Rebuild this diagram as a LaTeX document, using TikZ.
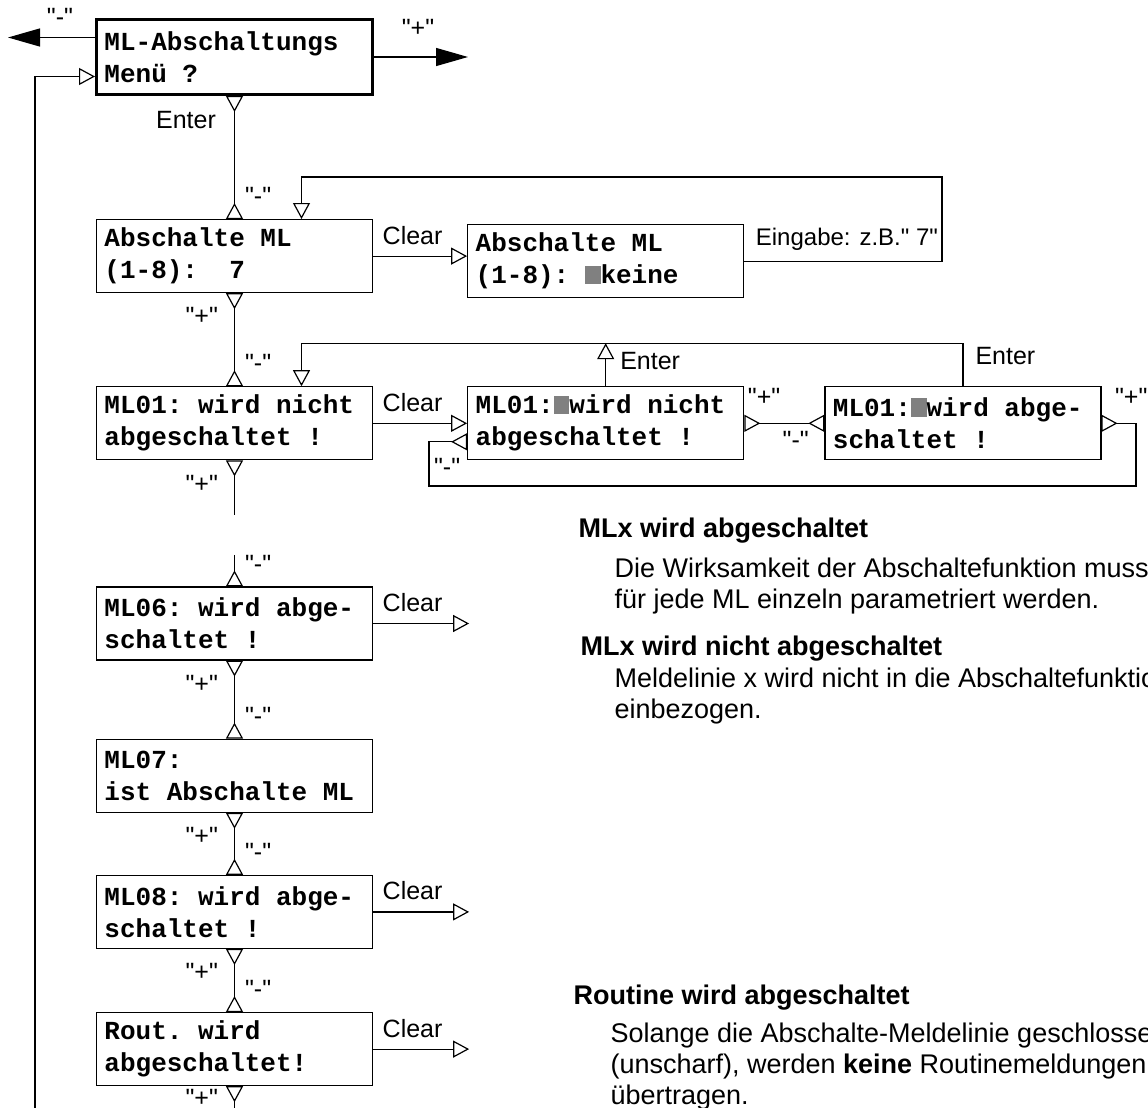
\documentclass[tikz,border=0pt]{standalone}
\usepackage{fontspec}
\setmainfont{Liberation Sans}
\newfontfamily\labelfont{Liberation Sans}
\newfontfamily\lcdmono{Liberation Mono}
\usetikzlibrary{arrows.meta,positioning}
\definecolor{cursgray}{HTML}{808080}
\newcommand{\lcdfont}{\fontsize{13}{16}\selectfont\lcdmono\bfseries}
\newcommand{\curs}{{\color{cursgray}\rule{0.6em}{0.7em}}}

\begin{document}
\begin{tikzpicture}[x=0.5pt, y=-0.5pt, line width=0.6pt, font=\labelfont\fontsize{12.5}{15}\selectfont]
  \tikzset{
    lcdbox/.style ={draw, line width=0.6pt, font=\lcdfont, text width=130pt, inner xsep=4pt, inner ysep=0pt, minimum height=36.5pt, align=flush left,
                    execute at begin node={\spaceskip=0.6em\xspaceskip=0.6em\relax}},
    menubox/.style={lcdbox, line width=1.5pt, minimum height=37.5pt},
    keylbl/.style ={inner sep=0pt},
    lbl/.style    ={inner sep=0pt},
    note/.style   ={anchor=north west, inner sep=0pt, align=left, font=\labelfont\fontsize{13.5}{15.5}\selectfont},
    opentip/.tip  ={Triangle[open, length=8pt, width=8.5pt]},
    backtip/.tip  ={Triangle[open, reversed, length=8pt, width=8.5pt]},
    bigtip/.tip   ={Triangle[length=16pt, width=9pt]},
  }
  \useasboundingbox (0,0) rectangle (1148,1108);

  % display boxes
  \node[menubox, anchor=north west] (menu) at (95,18) {ML-Abschaltungs\\Menü ?};
  \node[lcdbox, below=61.5pt of menu] (abs) {Abschalte ML\\(1-8):~~7};
  \node[lcdbox, right=47pt of abs, yshift=-2.5pt] (sel) {Abschalte ML\\(1-8):~\curs keine};
  \node[lcdbox, below=46.5pt of abs] (ml1) {ML01: wird nicht\\abgeschaltet !};
  \node[lcdbox, right=47pt of ml1] (ml1n) {ML01:\curs wird nicht\\abgeschaltet !};
  \node[lcdbox, right=40pt of ml1n] (ml1a) {ML01:\curs wird abge-\\schaltet !};
  \node[lcdbox, below=63pt of ml1] (ml6) {ML06: wird abge-\\schaltet !};
  \node[lcdbox, below=39pt of ml6] (ml7) {ML07:\\ist Abschalte ML};
  \node[lcdbox, below=31pt of ml7] (ml8) {ML08: wird abge-\\schaltet !};
  \node[lcdbox, below=31.5pt of ml8] (rout) {Rout. wird\\abgeschaltet!};

  % free ends and corners
  \coordinate (mleft) at ([xshift=-43.5pt, yshift=9.75pt]menu.west);
  \coordinate (mright) at ([xshift=47pt]menu.east);
  \coordinate (lb) at (35,1108);
  \coordinate (rbot) at (rout.south |- lb);
  \coordinate (eck) at (942,177);
  \coordinate (top1) at ([xshift=33.5pt, yshift=21.5pt]ml1.north);
  \coordinate (cA) at (1136,486);
  \coordinate (cB) at (429,486);
  \coordinate (ml6c) at ([xshift=48pt]ml6.east);
  \coordinate (ml8c) at ([xshift=48pt]ml8.east);
  \coordinate (routc) at ([xshift=48pt]rout.east);

  % menu
  \draw[-bigtip] ([yshift=9.75pt]menu.west) -- (mleft);
  \draw[-bigtip] (menu.east) -- (mright);
  \draw[-opentip] (lb) |- ([yshift=-9.75pt]menu.west);
  \node[keylbl] at ([xshift=26pt, yshift=10.5pt]mleft) {"-"};
  \node[keylbl] at ([xshift=-25pt, yshift=14.5pt]mright) {"+"};

  % main column
  \draw[backtip-backtip] (menu.south) -- (abs.north);
  \draw[backtip-backtip] (abs.south) -- (ml1.north);
  \draw[backtip-backtip, dash pattern=on 20pt off 20pt] (ml1.south) -- (ml6.north);
  \draw[backtip-backtip] (ml6.south) -- (ml7.north);
  \draw[backtip-backtip] (ml7.south) -- (ml8.north);
  \draw[backtip-backtip] (ml8.south) -- (rout.north);
  \draw[backtip-] (rout.south) -- (rbot);
  \node[lbl, left=9pt of menu.south, yshift=-12pt] {Enter};
  \foreach \b in {abs,ml1,ml6,ml7,ml8}
    \node[keylbl, left=8pt of \b.south, yshift=-11.5pt] {"+"};
  \node[keylbl, left=8pt of rout.south, yshift=-6pt] {"+"};
  \foreach \b in {abs,ml1,ml6,ml7,ml8,rout}
    \node[keylbl, right=5pt of \b.north, yshift=11.5pt] {"-"};

  % input of the line number
  \draw[-opentip] (abs.east) -- (abs.east -| sel.west);
  \node[lbl, right=4.5pt of abs.east, yshift=10.5pt] {Clear};
  \draw[-opentip] (sel.east) -| (eck) -| ([xshift=33.5pt]abs.north);
  \node[lbl, right=5.5pt of sel.east, yshift=11pt, font=\labelfont\fontsize{12}{14}\selectfont] {Eingabe: z.B." 7"};

  % ML01 selection
  \draw[-opentip] (ml1.east) -- (ml1n.west);
  \node[lbl, right=4.5pt of ml1.east, yshift=10.5pt] {Clear};
  \draw[-opentip] (ml1n.north) -- (ml1n.north |- top1);
  \node[lbl, right=7pt of ml1n.north, yshift=12.5pt] {Enter};
  \draw[-opentip] (ml1a.north) |- (top1) -- ([xshift=33.5pt]ml1.north);
  \node[lbl, right=6pt of ml1a.north, yshift=15pt] {Enter};
  \draw[backtip-backtip] (ml1n.east) -- (ml1a.west);
  \node[keylbl, right=1.5pt of ml1n.east, yshift=13pt] {"+"};
  \node[keylbl, left=7.5pt of ml1a.west, yshift=-8.5pt] {"-"};
  \draw[backtip-backtip] (ml1a.east) -| (cA) -- (cB) |- ([yshift=-9.25pt]ml1n.west);
  \node[keylbl, right=6.5pt of ml1a.east, yshift=13pt] {"+"};
  \node[keylbl] at ([xshift=-10pt, yshift=-22pt]ml1n.west) {"-"};

  % clear on the other lines
  \foreach \b in {ml6,ml8,rout} {
    \draw[-opentip] (\b.east) -- (\b c);
    \node[lbl, right=4.5pt of \b.east, yshift=10.5pt] {Clear};
  }

  % notes
  \node[note] (h1) at (578,517) {\textbf{MLx wird abgeschaltet}};
  \node[note] (t1) at (614,557) {Die Wirksamkeit der Abschaltefunktion muss\\für jede ML einzeln parametriert werden.};
  \node[note] (h2) at (580,635) {\textbf{MLx wird nicht abgeschaltet}};
  \node[note] (t2) at (614,667) {Meldelinie x wird nicht in die Abschaltefunktion\\einbezogen.};
  \node[note] (h3) at (573,984) {\textbf{Routine wird abgeschaltet}};
  \node[note] (t3) at (610,1022) {Solange die Abschalte-Meldelinie geschlossen\\(unscharf), werden \textbf{keine} Routinemeldungen\\übertragen.};
\end{tikzpicture}
\end{document}
